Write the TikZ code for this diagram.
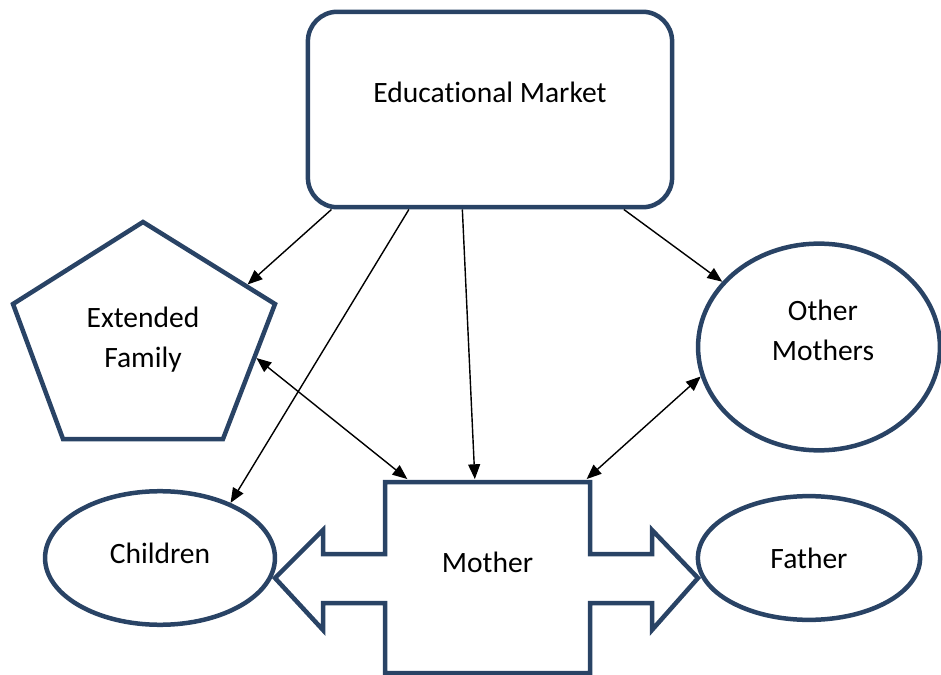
\documentclass[tikz,border=0pt]{standalone}
\usepackage{fontspec}
\setmainfont{Carlito}[Ligatures=NoCommon]
\usetikzlibrary{positioning, calc, arrows.meta, shapes.geometric}
\definecolor{shapeblue}{RGB}{41,67,101}
\newcommand{\px}{0.025cm}

\begin{document}
\begin{tikzpicture}[x=\px, y=-\px,
    every node/.style={font=\fontsize{21}{28.5}\selectfont},
    outline/.style={draw=shapeblue, line width=3.2pt, line join=miter},
    link/.style={line width=1pt, -{Triangle[length=10.5pt,width=8.5pt]}},
    dlink/.style={line width=1pt, {Triangle[length=10.5pt,width=8.5pt]}-{Triangle[length=10.5pt,width=8.5pt]}}]
      \useasboundingbox (0,0) rectangle (941,675);

      \node[outline, rounded corners=21pt, minimum width=259pt, minimum height=139pt,
            label={[yshift=12.5pt]center:Educational Market}] (market) at (490,109.5) {};

      \coordinate (fam-t) at (143,222);
      \coordinate (fam-r) at (275,304);
      \coordinate (fam-br) at (223,439);
      \coordinate (fam-bl) at (63,439);
      \coordinate (fam-l) at (13,304);
      \draw[outline] (fam-t) -- (fam-r) -- (fam-br) -- (fam-bl) -- (fam-l) -- cycle;
      \node[align=center] (family) at (143,340) {Extended\\Family};

      \node[outline, ellipse, inner sep=0pt, minimum width=172pt, minimum height=147pt,
            label={[align=center,xshift=2.8pt,yshift=12pt]center:Other\\Mothers}] (others) at (819,347) {};
      \node[outline, ellipse, inner sep=0pt, minimum width=163.5pt, minimum height=95pt,
            label={[yshift=3.5pt]center:Children}] (children) at (160,558) {};
      \node[outline, ellipse, inner sep=0pt, minimum width=158pt, minimum height=88pt] (father) at (809,558) {Father};

      \draw[outline] (385,482) -- (590,482) -- (590,554) -- (652,554) -- (652,530) -- (698,578)
        -- (652,630) -- (652,603) -- (590,603) -- (590,673) -- (385,673) -- (385,603)
        -- (323,603) -- (323,630) -- (275,578) -- (323,530) -- (323,554) -- (385,554) -- cycle;
      \node[minimum width=146pt, minimum height=136pt, outer sep=2pt,
            label={[yshift=11pt]center:Mother}] (mother) at (487.5,577.5) {};

      \draw[link, shorten >=1.6pt] ($(market.south west)!0.07!(market.south east)$) -- ($(fam-t)!0.78!(fam-r)$);
      \draw[link] ($(market.south west)!0.28!(market.south east)$) -- (node cs:name=children, angle=38);
      \draw[link] ($(market.south west)!0.425!(market.south east)$) -- ($(mother.north west)!0.44!(mother.north east)$);
      \draw[link] ($(market.south west)!0.863!(market.south east)$) -- (node cs:name=others, angle=146);
      \draw[dlink, shorten <=1.6pt] ($(fam-r)!0.39!(fam-br)$) -- ($(mother.north west)!0.12!(mother.north east)$);
      \draw[dlink] ($(mother.north west)!0.97!(mother.north east)$) -- (node cs:name=others, angle=194);
    \end{tikzpicture}
\end{document}
